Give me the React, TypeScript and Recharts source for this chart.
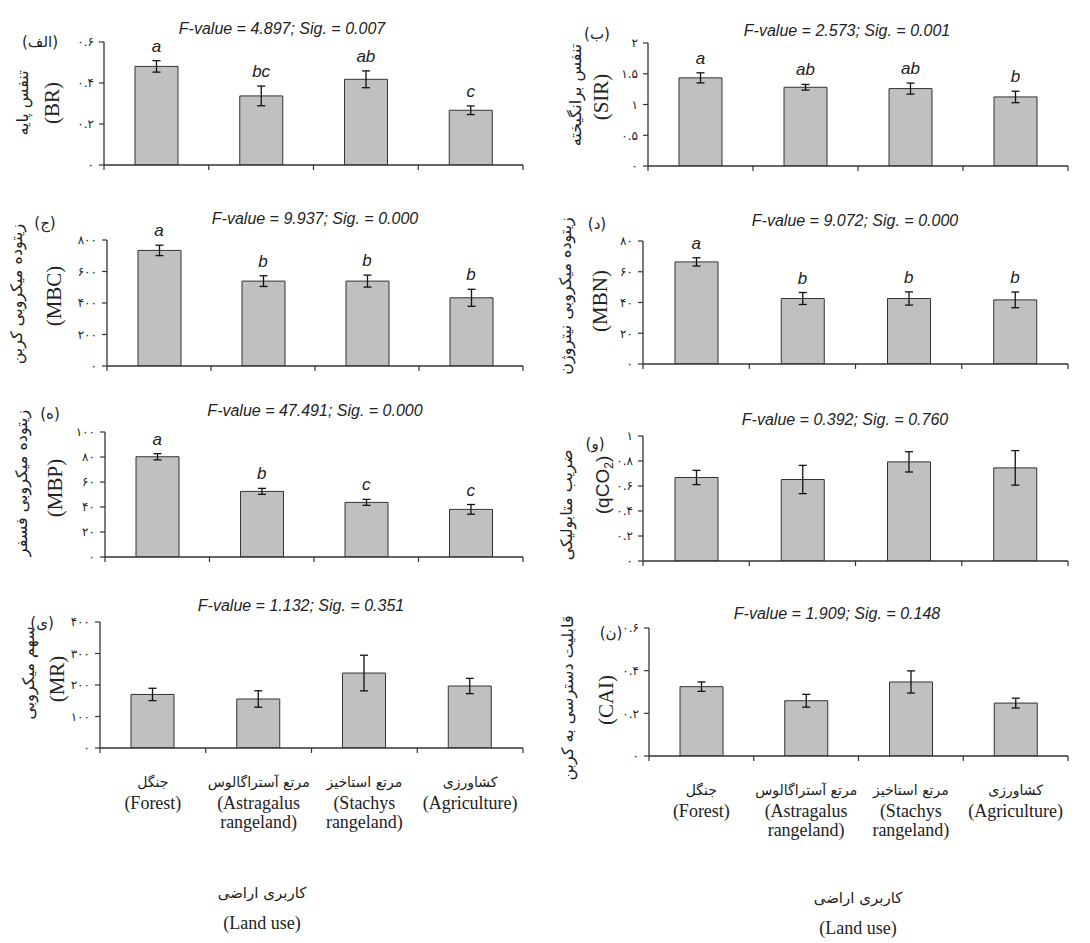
import React from 'react';
import { ComposedChart, Bar, Line, XAxis, YAxis, ErrorBar, LabelList } from 'recharts';

// land-use categories
const categories = ['Forest', 'Astragalus rangeland', 'Stachys rangeland', 'Agriculture'];
const categoriesFa = ['جنگل', 'مرتع آستراگالوس', 'مرتع استاخیز', 'کشاورزی'];
const categoriesEn = [['(Forest)'], ['(Astragalus', 'rangeland)'], ['(Stachys', 'rangeland)'], ['(Agriculture)']];

// (الف) basal respiration
const brMean = [0.481, 0.337, 0.418, 0.267];
const brErr = [0.028, 0.048, 0.041, 0.021];
const brLetters = ['a', 'bc', 'ab', 'c'];
const brTicks = [0, 0.2, 0.4, 0.6];

// (ب) substrate induced respiration
const sirMean = [1.433, 1.28, 1.259, 1.123];
const sirErr = [0.082, 0.046, 0.09, 0.093];
const sirLetters = ['a', 'ab', 'ab', 'b'];
const sirTicks = [0, 0.5, 1, 1.5, 2];

// (ج) microbial biomass carbon
const mbcMean = [734, 539, 539, 433];
const mbcErr = [33, 34, 38, 54];
const mbcLetters = ['a', 'b', 'b', 'b'];
const mbcTicks = [0, 200, 400, 600, 800];

// (د) microbial biomass nitrogen
const mbnMean = [66.4, 42.6, 42.6, 41.7];
const mbnErr = [2.7, 3.9, 4.3, 5.1];
const mbnLetters = ['a', 'b', 'b', 'b'];
const mbnTicks = [0, 20, 40, 60, 80];

// (ه) microbial biomass phosphorus
const mbpMean = [80.2, 52.5, 43.7, 38.1];
const mbpErr = [2.5, 2.4, 2.4, 3.9];
const mbpLetters = ['a', 'b', 'c', 'c'];
const mbpTicks = [0, 20, 40, 60, 80, 100];

// (و) metabolic quotient
const qco2Mean = [0.668, 0.652, 0.793, 0.745];
const qco2Err = [0.057, 0.113, 0.081, 0.138];
const qco2Ticks = [0, 0.2, 0.4, 0.6, 0.8, 1];

// (ی) microbial ratio
const mrMean = [170, 155.6, 238, 196.8];
const mrErr = [19.6, 26, 56.6, 24.3];
const mrTicks = [0, 100, 200, 300, 400];

// (ن) carbon availability index
const caiMean = [0.325, 0.259, 0.347, 0.248];
const caiErr = [0.022, 0.03, 0.052, 0.023];
const caiTicks = [0, 0.2, 0.4, 0.6];

const faDigits = (v: number) => String(v).replace(/\d/g, (d) => '۰۱۲۳۴۵۶۷۸۹'[Number(d)]);

const axisStroke = '#333';
const faFont = '"DejaVu Sans", sans-serif';
const serif = '"Liberation Serif", "Times New Roman", serif';
const sans = '"Liberation Sans", Arial, sans-serif';

function CatTick(props: any) {
  const { x, y, index, band, showCats } = props;
  const last = index === categories.length - 1;
  const en = categoriesEn[index];
  return (
    <g>
      <line x1={x - band / 2} y1={y} x2={x - band / 2} y2={y + 5} stroke={axisStroke} strokeWidth={1.2} />
      {last && <line x1={x + band / 2} y1={y} x2={x + band / 2} y2={y + 5} stroke={axisStroke} strokeWidth={1.2} />}
      {showCats && (
        <g>
          <text x={x} y={y + 34} textAnchor="middle" dominantBaseline="central" fontFamily={faFont} fontSize={14} fill="#222">
            {categoriesFa[index]}
          </text>
          {en.map((line: string, i: number) => (
            <text key={i} x={x} y={y + 55 + i * 19} textAnchor="middle" dominantBaseline="central" fontFamily={serif} fontSize={18} fill="#222">
              {line}
            </text>
          ))}
        </g>
      )}
    </g>
  );
}

type PanelProps = {
  x: number;
  y: number;
  w: number;
  h: number;
  mean: number[];
  err: number[];
  letters?: string[];
  ticks: number[];
  showCats?: boolean;
};

function Panel({ x, y, w, h, mean, err, letters, ticks, showCats }: PanelProps) {
  const data = categories.map((c, i) => ({
    cat: c,
    mean: mean[i],
    err: err[i],
    top: mean[i] + err[i],
    letter: letters ? letters[i] : '',
  }));
  const axisW = 50;
  const mTop = 30;
  const xH = showCats ? 90 : 8;
  return (
    <div style={{ position: 'absolute', left: x - axisW, top: y - mTop }}>
      <ComposedChart
        width={w + axisW + 4}
        height={h + mTop + xH}
        data={data}
        margin={{ top: mTop, right: 4, bottom: 0, left: 0 }}
        barSize={43}
      >
        <XAxis
          dataKey="cat"
          height={xH}
          interval={0}
          tickSize={0}
          tickMargin={0}
          tickLine={false}
          axisLine={{ stroke: axisStroke, strokeWidth: 1.3 }}
          tick={<CatTick band={w / categories.length} showCats={showCats} />}
        />
        <YAxis
          width={axisW}
          domain={[0, ticks[ticks.length - 1]]}
          ticks={ticks}
          interval={0}
          allowDataOverflow
          tickFormatter={faDigits}
          tickSize={5}
          tickMargin={5}
          axisLine={{ stroke: axisStroke, strokeWidth: 1.3 }}
          tickLine={{ stroke: axisStroke, strokeWidth: 1.2 }}
          tick={{ fontSize: 12, fill: '#222', fontFamily: faFont }}
        />
        <Bar dataKey="mean" fill="#c0c0c0" stroke="#333" strokeWidth={1} isAnimationActive={false}>
          <ErrorBar dataKey="err" width={4} stroke="#111" strokeWidth={1.3} />
        </Bar>
        {letters && (
          <Line dataKey="top" stroke="none" dot={false} activeDot={false} legendType="none" isAnimationActive={false}>
            <LabelList
              dataKey="letter"
              position="top"
              offset={9}
              style={{ fontStyle: 'italic', fontSize: 17, fill: '#222', fontFamily: sans }}
            />
          </Line>
        )}
      </ComposedChart>
    </div>
  );
}

function Title({ cx, cy, text }: { cx: number; cy: number; text: string }) {
  return (
    <div
      style={{
        position: 'absolute',
        left: cx,
        top: cy,
        transform: 'translate(-50%,-50%)',
        whiteSpace: 'nowrap',
        fontFamily: sans,
        fontStyle: 'italic',
        fontSize: 16,
        color: '#222',
        lineHeight: 1,
      }}
    >
      {text}
    </div>
  );
}

function Txt({ cx, cy, size, family, rotate, rtl, children }: any) {
  return (
    <div
      style={{
        position: 'absolute',
        left: cx,
        top: cy,
        transform: `translate(-50%,-50%)${rotate ? ' rotate(-90deg)' : ''}`,
        whiteSpace: 'nowrap',
        fontFamily: family,
        fontSize: size,
        color: '#222',
        lineHeight: 1,
        direction: rtl ? 'rtl' : 'ltr',
      }}
    >
      {children}
    </div>
  );
}

// panel tag like (الف): parentheses kept outside the Arabic run
function Tag({ cx, cy, label }: { cx: number; cy: number; label: string }) {
  return (
    <Txt cx={cx} cy={cy} size={15} family={faFont}>
      (<bdi>{label}</bdi>)
    </Txt>
  );
}

export default function App() {
  return (
    <div style={{ position: 'absolute', left: 0, top: 0, width: 1090, height: 943, background: '#fff', overflow: 'hidden' }}>
      <Panel x={104} y={42} w={419} h={123} mean={brMean} err={brErr} letters={brLetters} ticks={brTicks} />
      <Panel x={648} y={43} w={420} h={123} mean={sirMean} err={sirErr} letters={sirLetters} ticks={sirTicks} />
      <Panel x={107} y={240} w={416} h={126} mean={mbcMean} err={mbcErr} letters={mbcLetters} ticks={mbcTicks} />
      <Panel x={643} y={241} w={425} h={123} mean={mbnMean} err={mbnErr} letters={mbnLetters} ticks={mbnTicks} />
      <Panel x={105} y={432} w={418} h={125} mean={mbpMean} err={mbpErr} letters={mbpLetters} ticks={mbpTicks} />
      <Panel x={643} y={436} w={425} h={125} mean={qco2Mean} err={qco2Err} ticks={qco2Ticks} />
      <Panel x={100} y={622} w={423} h={126} mean={mrMean} err={mrErr} ticks={mrTicks} showCats />
      <Panel x={649} y={628} w={419} h={128} mean={caiMean} err={caiErr} ticks={caiTicks} showCats />

      <Title cx={282} cy={29} text="F-value = 4.897; Sig. = 0.007" />
      <Title cx={847} cy={31} text="F-value = 2.573; Sig. = 0.001" />
      <Title cx={315} cy={219} text="F-value = 9.937; Sig. = 0.000" />
      <Title cx={855} cy={221} text="F-value = 9.072; Sig. = 0.000" />
      <Title cx={315} cy={411} text="F-value = 47.491; Sig. = 0.000" />
      <Title cx={845} cy={420} text="F-value = 0.392; Sig. = 0.760" />
      <Title cx={301} cy={606} text="F-value = 1.132; Sig. = 0.351" />
      <Title cx={837} cy={614} text="F-value = 1.909; Sig. = 0.148" />

      {/* panel letters */}
      <Tag cx={40} cy={42} label="الف" />
      <Tag cx={597} cy={34} label="ب" />
      <Tag cx={45} cy={223} label="ج" />
      <Tag cx={597} cy={224} label="د" />
      <Tag cx={50} cy={414} label="ه" />
      <Tag cx={595} cy={444} label="و" />
      <Tag cx={42} cy={623} label="ی" />
      <Tag cx={611} cy={633} label="ن" />

      {/* y-axis titles */}
      <Txt cx={52} cy={103} size={21} family={serif} rotate>(BR)</Txt>
      <Txt cx={23} cy={103} size={16} family={faFont} rotate rtl>تنفس پایه</Txt>
      <Txt cx={601} cy={97} size={21} family={serif} rotate>(SIR)</Txt>
      <Txt cx={576} cy={95} size={16} family={faFont} rotate rtl>تنفس برانگیخته</Txt>
      <Txt cx={54} cy={296} size={21} family={serif} rotate>(MBC)</Txt>
      <Txt cx={17} cy={294} size={16} family={faFont} rotate rtl>زیتوده میکروبی کربن</Txt>
      <Txt cx={600} cy={301} size={21} family={serif} rotate>(MBN)</Txt>
      <Txt cx={566} cy={296} size={16} family={faFont} rotate rtl>زیتوده میکروبی نیتروژن</Txt>
      <Txt cx={55} cy={488} size={21} family={serif} rotate>(MBP)</Txt>
      <Txt cx={22} cy={483} size={16} family={faFont} rotate rtl>زیتوده میکروبی فسفر</Txt>
      <Txt cx={604} cy={485} size={19} family={sans} rotate>(qCO<sub style={{ fontSize: 12 }}>2</sub>)</Txt>
      <Txt cx={567} cy={505} size={16} family={faFont} rotate rtl>ضریب متابولیکی</Txt>
      <Txt cx={57} cy={679} size={21} family={serif} rotate>(MR)</Txt>
      <Txt cx={29} cy={673} size={16} family={faFont} rotate rtl>سهم میکروبی</Txt>
      <Txt cx={606} cy={700} size={21} family={serif} rotate>(CAI)</Txt>
      <Txt cx={568} cy={698} size={16} family={faFont} rotate rtl>قابلیت دسترسی به کربن</Txt>

      {/* x-axis titles */}
      <Txt cx={262} cy={893} size={15} family={faFont} rtl>کاربری اراضی</Txt>
      <Txt cx={262} cy={923} size={18} family={serif}>(Land use)</Txt>
      <Txt cx={858} cy={898} size={15} family={faFont} rtl>کاربری اراضی</Txt>
      <Txt cx={858} cy={928} size={18} family={serif}>(Land use)</Txt>
    </div>
  );
}
